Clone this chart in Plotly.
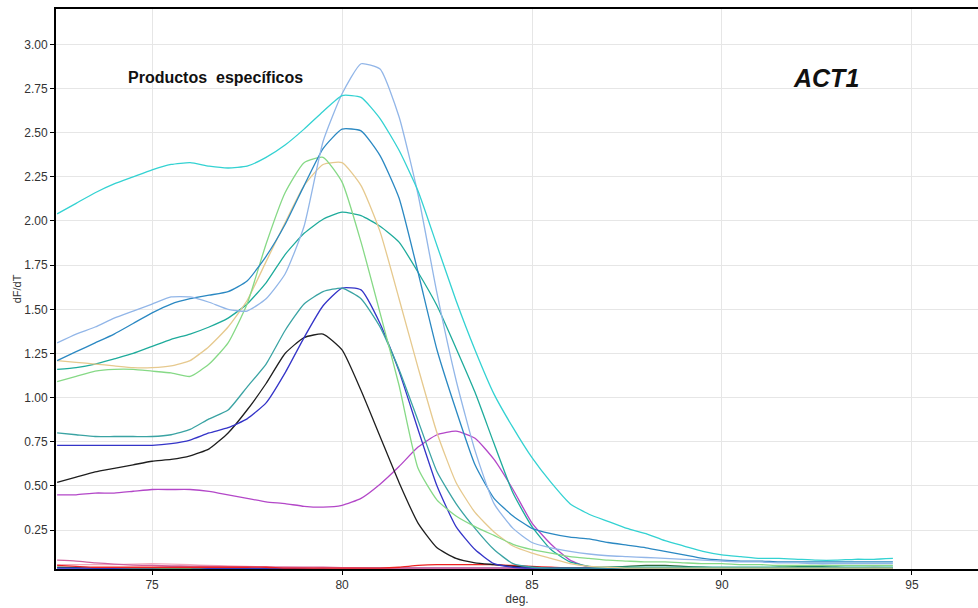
import plotly.graph_objects as go

# Temperature grid (deg.) for all melt-curve derivatives
temps = [72.5 + 0.5 * i for i in range(45)]

cyan_vals = [2.04, 2.10, 2.16, 2.21, 2.25, 2.29, 2.32, 2.33, 2.31, 2.30, 2.31, 2.36, 2.43, 2.52, 2.62,
             2.71, 2.70, 2.58, 2.40, 2.17, 1.86, 1.55, 1.27, 1.02, 0.83, 0.66, 0.52, 0.40, 0.34, 0.30,
             0.26, 0.23, 0.19, 0.16, 0.13, 0.11, 0.10, 0.09, 0.09, 0.085, 0.08, 0.08, 0.085, 0.085, 0.09]
lightblue_vals = [1.31, 1.36, 1.40, 1.45, 1.49, 1.53, 1.57, 1.57, 1.54, 1.50, 1.49, 1.56, 1.70, 1.97, 2.45,
                  2.72, 2.89, 2.86, 2.59, 2.15, 1.59, 1.10, 0.70, 0.40, 0.26, 0.18, 0.15, 0.13, 0.115, 0.105,
                  0.10, 0.095, 0.09, 0.085, 0.08, 0.075, 0.07, 0.07, 0.065, 0.065, 0.06, 0.06, 0.06, 0.06, 0.06]
steelblue_vals = [1.21, 1.26, 1.31, 1.36, 1.42, 1.48, 1.53, 1.56, 1.58, 1.60, 1.66, 1.80, 1.98, 2.20, 2.41,
                  2.52, 2.51, 2.37, 2.13, 1.71, 1.27, 0.93, 0.62, 0.43, 0.33, 0.26, 0.23, 0.21, 0.20, 0.18,
                  0.165, 0.15, 0.13, 0.11, 0.09, 0.08, 0.075, 0.075, 0.07, 0.07, 0.07, 0.07, 0.07, 0.07, 0.07]
green_vals = [1.09, 1.12, 1.15, 1.16, 1.16, 1.15, 1.14, 1.12, 1.19, 1.31, 1.53, 1.87, 2.16, 2.33, 2.36,
              2.22, 1.88, 1.48, 1.07, 0.60, 0.42, 0.33, 0.27, 0.22, 0.17, 0.14, 0.12, 0.10, 0.09, 0.08,
              0.075, 0.07, 0.07, 0.065, 0.06, 0.06, 0.055, 0.055, 0.05, 0.05, 0.05, 0.05, 0.05, 0.05, 0.05]
tan_vals = [1.21, 1.20, 1.19, 1.18, 1.17, 1.17, 1.18, 1.21, 1.29, 1.40, 1.55, 1.77, 1.99, 2.20, 2.32,
            2.33, 2.20, 1.94, 1.56, 1.17, 0.80, 0.52, 0.35, 0.24, 0.16, 0.12, 0.09, 0.06, 0.045, 0.04,
            0.035, 0.035, 0.035, 0.035, 0.035, 0.035, 0.035, 0.035, 0.035, 0.035, 0.035, 0.035, 0.035, 0.035, 0.035]
teal_vals = [1.16, 1.17, 1.19, 1.22, 1.25, 1.29, 1.33, 1.36, 1.40, 1.45, 1.53, 1.65, 1.81, 1.93, 2.01,
             2.05, 2.03, 1.97, 1.88, 1.71, 1.52, 1.28, 1.03, 0.74, 0.46, 0.27, 0.14, 0.07, 0.045, 0.04,
             0.04, 0.04, 0.04, 0.04, 0.04, 0.04, 0.04, 0.04, 0.04, 0.04, 0.04, 0.04, 0.04, 0.04, 0.04]
cadet_vals = [0.80, 0.79, 0.78, 0.78, 0.78, 0.78, 0.79, 0.82, 0.88, 0.93, 1.06, 1.19, 1.38, 1.53, 1.60,
              1.62, 1.56, 1.40, 1.16, 0.87, 0.58, 0.40, 0.26, 0.14, 0.06, 0.04, 0.035, 0.035, 0.035, 0.035,
              0.035, 0.035, 0.035, 0.035, 0.035, 0.035, 0.035, 0.035, 0.035, 0.035, 0.035, 0.035, 0.035, 0.035, 0.035]
blue_vals = [0.73, 0.73, 0.73, 0.73, 0.73, 0.73, 0.74, 0.76, 0.80, 0.83, 0.88, 0.97, 1.14, 1.34, 1.52,
             1.62, 1.61, 1.42, 1.15, 0.82, 0.50, 0.27, 0.14, 0.06, 0.04, 0.035, 0.035, 0.035, 0.035, 0.035,
             0.035, 0.035, 0.035, 0.035, 0.035, 0.035, 0.035, 0.035, 0.035, 0.035, 0.035, 0.035, 0.035, 0.035, 0.035]
black_vals = [0.52, 0.55, 0.58, 0.60, 0.62, 0.64, 0.65, 0.67, 0.71, 0.80, 0.93, 1.08, 1.25, 1.34, 1.36,
              1.27, 1.04, 0.78, 0.52, 0.29, 0.15, 0.09, 0.065, 0.055, 0.045, 0.04, 0.035, 0.035, 0.035, 0.035,
              0.035, 0.035, 0.035, 0.035, 0.035, 0.035, 0.035, 0.035, 0.035, 0.035, 0.035, 0.035, 0.035, 0.035, 0.035]
purple_vals = [0.45, 0.45, 0.46, 0.46, 0.47, 0.48, 0.48, 0.48, 0.47, 0.45, 0.43, 0.41, 0.40, 0.385, 0.38,
               0.39, 0.43, 0.51, 0.61, 0.72, 0.79, 0.81, 0.77, 0.65, 0.48, 0.29, 0.17, 0.08, 0.04, 0.035,
               0.035, 0.035, 0.035, 0.035, 0.035, 0.035, 0.035, 0.035, 0.035, 0.035, 0.035, 0.035, 0.035, 0.035, 0.035]

# Non-specific / negative wells lying along the baseline
red_vals = [0.05, 0.045, 0.04, 0.04, 0.04, 0.04, 0.04, 0.04, 0.04, 0.04, 0.04, 0.04, 0.035, 0.035, 0.035,
            0.035, 0.035, 0.035, 0.04, 0.05, 0.055, 0.055, 0.055, 0.055, 0.05, 0.045, 0.04, 0.035, 0.035, 0.035,
            0.035, 0.035, 0.035, 0.035, 0.035, 0.035, 0.035, 0.035, 0.035, 0.035, 0.035, 0.035, 0.035, 0.035, 0.035]
pink_vals = [0.08, 0.075, 0.065, 0.058, 0.052, 0.05, 0.048, 0.046, 0.045, 0.044, 0.043, 0.042, 0.04, 0.04, 0.04,
             0.038, 0.036, 0.035, 0.035, 0.035, 0.035, 0.035, 0.035, 0.035, 0.035, 0.035, 0.035, 0.035, 0.035, 0.035,
             0.035, 0.035, 0.035, 0.035, 0.035, 0.035, 0.035, 0.035, 0.035, 0.035, 0.035, 0.035, 0.035, 0.035, 0.035]
lightpink_vals = [0.055, 0.055, 0.055, 0.055, 0.058, 0.06, 0.058, 0.055, 0.05, 0.047, 0.045, 0.042, 0.04, 0.038, 0.036,
                  0.035, 0.035, 0.035, 0.035, 0.035, 0.035, 0.035, 0.035, 0.035, 0.035, 0.035, 0.035, 0.035, 0.035, 0.035,
                  0.035, 0.035, 0.035, 0.035, 0.035, 0.035, 0.035, 0.035, 0.035, 0.035, 0.035, 0.035, 0.035, 0.04, 0.035]
bluebase_vals = [0.035, 0.035, 0.035, 0.035, 0.038, 0.038, 0.04, 0.04, 0.035, 0.035, 0.035, 0.035, 0.035, 0.035, 0.035,
                 0.035, 0.035, 0.035, 0.035, 0.035, 0.035, 0.035, 0.035, 0.035, 0.035, 0.035, 0.035, 0.035, 0.035, 0.035,
                 0.035, 0.035, 0.035, 0.035, 0.035, 0.035, 0.035, 0.035, 0.035, 0.035, 0.035, 0.035, 0.035, 0.035, 0.035]
darkgreen_vals = [0.04, 0.038, 0.035, 0.035, 0.035, 0.035, 0.035, 0.035, 0.035, 0.035, 0.035, 0.035, 0.035, 0.035, 0.035,
                  0.035, 0.035, 0.035, 0.035, 0.035, 0.035, 0.035, 0.035, 0.035, 0.035, 0.035, 0.035, 0.035, 0.035, 0.04,
                  0.045, 0.05, 0.05, 0.045, 0.04, 0.035, 0.035, 0.035, 0.04, 0.045, 0.045, 0.04, 0.035, 0.035, 0.035]

curves = [
    (purple_vals, "#b347c8"),
    (black_vals, "#1e1e1e"),
    (blue_vals, "#3434c8"),
    (cadet_vals, "#3aa3a3"),
    (teal_vals, "#1eab9b"),
    (tan_vals, "#e6c98e"),
    (green_vals, "#86d986"),
    (steelblue_vals, "#2a88c2"),
    (lightblue_vals, "#92b6e8"),
    (cyan_vals, "#33d2d2"),
]
baseline = [
    (darkgreen_vals, "#2e6b3a"),
    (bluebase_vals, "#2222dd"),
    (lightpink_vals, "#f2a8bc"),
    (pink_vals, "#d0609c"),
    (red_vals, "#ee2222"),
]

fig = go.Figure()
for vals, col in baseline + curves:
    fig.add_trace(go.Scatter(
        x=temps, y=vals, mode="lines",
        line=dict(color=col, width=1.3, shape="spline", smoothing=0.5),
        showlegend=False, hoverinfo="skip",
    ))

fig.add_annotation(x=76.68, y=2.81, xref="x", yref="y", text="<b>Productos &nbsp;específicos</b>",
                   showarrow=False, font=dict(family="Liberation Sans, Arial", size=16, color="#111"))
fig.add_annotation(x=92.73, y=2.81, xref="x", yref="y", text="<b><i>ACT1</i></b>",
                   showarrow=False, font=dict(family="Liberation Sans, Arial", size=25, color="#111"))

axis_font = dict(family="Liberation Sans, Arial", size=12, color="#333")
fig.update_layout(
    width=978, height=608,
    margin=dict(l=56, r=0, t=9, b=39),
    paper_bgcolor="white", plot_bgcolor="white",
    xaxis=dict(
        range=[72.47, 96.74], tickvals=[75, 80, 85, 90, 95],
        showgrid=True, gridcolor="#e6e6e6", gridwidth=1, zeroline=False,
        showline=True, linecolor="black", linewidth=2, mirror=True,
        ticks="outside", ticklen=4, tickcolor="black", tickfont=axis_font,
        title=dict(text="deg.", font=dict(family="Liberation Sans, Arial", size=12, color="#333"), standoff=2),
    ),
    yaxis=dict(
        range=[0.03, 3.2], tickvals=[0.25, 0.5, 0.75, 1.0, 1.25, 1.5, 1.75, 2.0, 2.25, 2.5, 2.75, 3.0],
        tickformat=".2f",
        showgrid=True, gridcolor="#e6e6e6", gridwidth=1, zeroline=False,
        showline=True, linecolor="black", linewidth=2,
        ticks="outside", ticklen=4, tickcolor="black", tickfont=axis_font,
        title=dict(text="dF/dT", font=dict(family="Liberation Sans, Arial", size=11, color="#333"), standoff=0),
    ),
)

fig.write_html("out.html")
